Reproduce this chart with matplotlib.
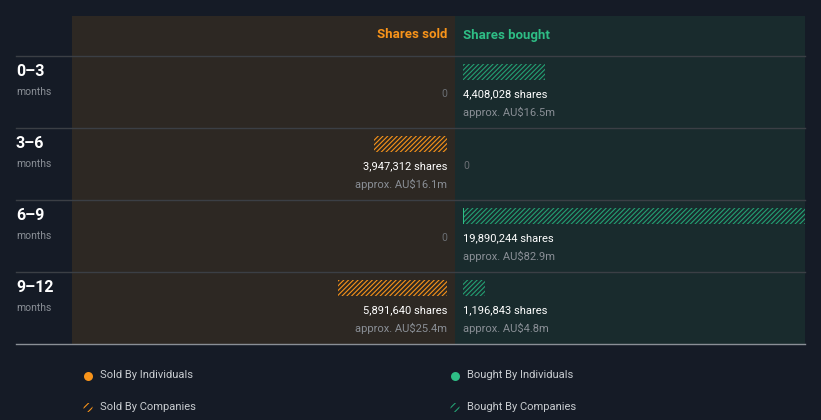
import matplotlib
matplotlib.use("Agg")
import matplotlib.pyplot as plt
from matplotlib.patches import Rectangle

plt.rcParams['font.family'] = ['Roboto', 'DejaVu Sans']
plt.rcParams['hatch.linewidth'] = 0.8

# Data
periods = ['0–3', '3–6', '6–9', '9–12']
sold_companies = [0, 3947312, 0, 5891640]
sold_individuals = [0, 0, 0, 0]
sold_value = ['', 'approx. AU$16.1m', '', 'approx. AU$25.4m']
bought_companies = [4408028, 0, 19890244, 1196843]
bought_individuals = [0, 0, 60000, 0]
bought_value = ['approx. AU$16.5m', '', 'approx. AU$82.9m', 'approx. AU$4.8m']

BG = '#151b26'
SOLD_BG = '#2d2823'
BOUGHT_BG = '#192b2d'
ORANGE = '#f7931a'
GREEN = '#2ebd85'
GREEN_HATCH = '#24a073'
GRID = '#3b3f45'
DIM = '#8a8f96'

W, H = 821, 420
fig = plt.figure(figsize=(W / 100, H / 100), dpi=100, facecolor=BG)
ax = fig.add_axes([0, 0, 1, 1])
ax.set_xlim(0, W)
ax.set_ylim(H, 0)
ax.axis('off')
ax.set_facecolor(BG)

top, head, row_h = 16, 56, 72
bottom = head + row_h * len(periods)
mid = 455
ax.add_patch(Rectangle((72, top), mid - 72, bottom - top, color=SOLD_BG, lw=0))
ax.add_patch(Rectangle((mid, top), 805 - mid, bottom - top, color=BOUGHT_BG, lw=0))

for i in range(len(periods)):
    y = head + i * row_h
    ax.plot([16, 805], [y, y], color=GRID, lw=1)
ax.plot([16, 805], [bottom, bottom], color='#8a8f96', lw=1)

ax.text(447, 35, 'Shares sold', color=ORANGE, fontsize=9.5, fontweight='bold',
        ha='right', va='center')
ax.text(463, 35, 'Shares bought', color=GREEN, fontsize=9.5, fontweight='bold',
        ha='left', va='center')

# bar axes: same px-per-share scale on both sides
px_per_share = 18.5e-6
sold_ax = fig.add_axes([72 / W, (H - bottom) / H, (447 - 72) / W, (bottom - head) / H])
buy_ax = fig.add_axes([463 / W, (H - bottom) / H, (805 - 463) / W, (bottom - head) / H])
sold_ax.set_xlim((447 - 72) / px_per_share, 0)
buy_ax.set_xlim(0, (805 - 463) / px_per_share)
rows = list(range(len(periods)))
bar_y = [r + 16 / 72 for r in rows]
for a in (sold_ax, buy_ax):
    a.set_ylim(len(periods), 0)
    a.axis('off')
    a.patch.set_alpha(0)

HATCH = '///////'
sold_ax.barh(bar_y, sold_individuals, height=16 / 72, color=ORANGE, lw=0)
sold_ax.barh(bar_y, sold_companies, left=sold_individuals, height=16 / 72,
             facecolor='none', edgecolor=ORANGE, hatch=HATCH, lw=0)
buy_ax.barh(bar_y, bought_individuals, height=16 / 72, color=GREEN, lw=0)
buy_ax.barh(bar_y, bought_companies, left=bought_individuals, height=16 / 72,
            facecolor='none', edgecolor=GREEN_HATCH, hatch=HATCH, lw=0)

for i, p in enumerate(periods):
    y = head + i * row_h
    ax.text(16, y + 15, p, color='white', fontsize=11.5, fontweight='bold',
            ha='left', va='center')
    ax.text(16, y + 36, 'months', color=DIM, fontsize=7.5, ha='left', va='center')

    s = sold_companies[i] + sold_individuals[i]
    if s == 0:
        ax.text(447, y + 38, '0', color='#6b6f74', fontsize=7.5, ha='right', va='center')
    else:
        ax.text(447, y + 38, f'{s:,} shares', color='white', fontsize=8,
                ha='right', va='center')
        ax.text(447, y + 56, sold_value[i], color=DIM, fontsize=8,
                ha='right', va='center')

    b = bought_companies[i] + bought_individuals[i]
    if b == 0:
        ax.text(463, y + 38, '0', color='#6b6f74', fontsize=7.5, ha='left', va='center')
    else:
        ax.text(463, y + 38, f'{bought_companies[i]:,} shares', color='white', fontsize=8,
                ha='left', va='center')
        ax.text(463, y + 56, bought_value[i], color=DIM, fontsize=8,
                ha='left', va='center')

# legend
leg = [(88, 375, ORANGE, False, 'Sold By Individuals'),
       (88, 407, ORANGE, True, 'Sold By Companies'),
       (455, 375, GREEN, False, 'Bought By Individuals'),
       (455, 407, GREEN_HATCH, True, 'Bought By Companies')]
for x, y, c, hatched, label in leg:
    if hatched:
        ax.scatter([x], [y + 0.5], s=42, facecolor='none', edgecolor=c, hatch='////', lw=0)
    else:
        ax.scatter([x], [y + 0.5], s=42, color=c, lw=0)
    ax.text(x + 12, y + 0.5, label, color='#c8ccd0', fontsize=8, ha='left', va='center')

fig.savefig('out.png', dpi=100, facecolor=BG)
